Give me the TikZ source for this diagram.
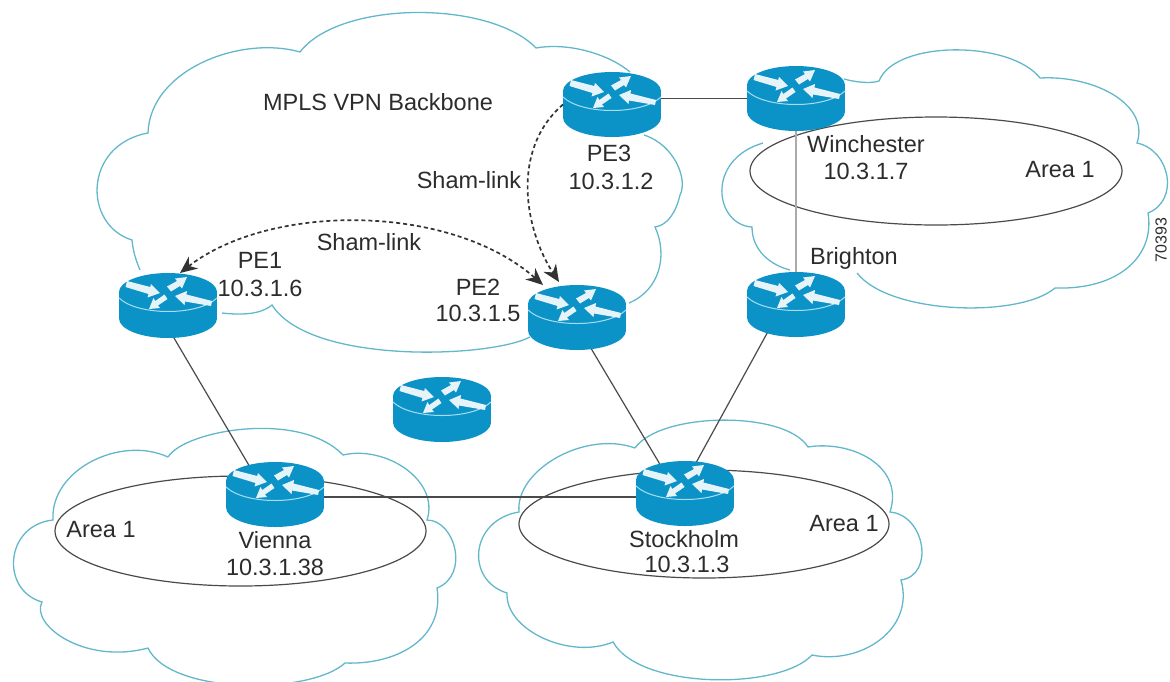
\documentclass[tikz,border=0pt]{standalone}
\usepackage{fontspec}
\setmainfont{Liberation Sans}
\usetikzlibrary{arrows.meta}
\definecolor{routerblue}{HTML}{0B93C8}
\definecolor{rimblue}{HTML}{A8DDF0}
\definecolor{cloudline}{HTML}{62B7CB}
\definecolor{inkgrey}{HTML}{2C2C2C}
\definecolor{linkgrey}{HTML}{4A4A4A}
\definecolor{paleflow}{HTML}{E6F4FA}
\tikzset{
  routerbox/.style={minimum width=98pt,minimum height=65pt,inner sep=0pt,outer sep=0pt},
  cloudpath/.style={draw=cloudline,line width=1.3pt},
  areaoval/.style={draw=linkgrey,line width=1.2pt},
  wire/.style={draw=linkgrey,line width=1.2pt,shorten <=-12pt,shorten >=-12pt},
  palewire/.style={draw=black!33,line width=2.4pt},
  shamlink/.style={draw=black!80,line width=1.7pt,dash pattern=on 4pt off 3pt},
  lbl/.style={text=inkgrey,font=\fontsize{23.5pt}{26pt}\selectfont,inner sep=0pt},
  tinylbl/.style={text=inkgrey,font=\fontsize{16pt}{18pt}\selectfont,inner sep=0pt},
  routerglyph/.pic={
    \begin{scope}[shift={(0,-13.5)}]
      \fill[routerblue] (0,0) ellipse [x radius=49pt,y radius=19pt];
      \fill[routerblue] (0,26.5) ellipse [x radius=49pt,y radius=19.5pt];
      \fill[routerblue] (-49,0) rectangle (49,26.5);
      \draw[rimblue,line width=1pt] (-49,6) .. controls (-30,24) and (30,24) .. (49,6);
      \fill[paleflow] (-8,1) -- (-17,-8) -- (-17.8,-5) -- (-41,-11) -- (-42.5,-5) -- (-19.5,2) -- (-20.5,5.5) -- cycle;
      \fill[paleflow] (-1,-5.5) -- (9,-11) -- (7,-13.5) -- (19,-15) -- (14,-3.5) -- (12,-6) -- (3,-0.5) -- cycle;
      \fill[paleflow] (7,4) -- (19,-1) -- (18.5,2.5) -- (44,9) -- (43,14) -- (17,9.5) -- (16.5,13) -- cycle;
      \fill[paleflow] (-19,17) -- (-14.5,6) -- (-12.7,9) -- (-3.5,2.5) -- (-0.5,7) -- (-10,13.5) -- (-8,16) -- cycle;
    \end{scope}
  }
}
\begin{document}
\begin{tikzpicture}[x=1pt,y=-1pt]
\useasboundingbox (0,0) rectangle (1170,681);
% router anchors
\node[routerbox] (pe3) at (612,104.5) {};
\node[routerbox] (win) at (796,98.5) {};
\node[routerbox] (bri) at (796,304.5) {};
\node[routerbox] (pe2) at (577,317.5) {};
\node[routerbox] (pe1) at (168,305.5) {};
\node[routerbox] (vie) at (275,494.5) {};
\node[routerbox] (mid) at (442,409.5) {};
\node[routerbox] (sto) at (685,493.5) {};
% clouds
\draw[cloudpath] (140,270) .. controls (135,258) and (133,250) .. (132,240)
  .. controls (83,225) and (83,145) .. (148,133)
  .. controls (150,70) and (240,35) .. (300,52)
  .. controls (340,0) and (490,0) .. (536,48)
  .. controls (570,42) and (610,55) .. (630,72);
\draw[cloudpath] (644,135) .. controls (675,145) and (688,180) .. (680,195)
  .. controls (676,212) and (668,225) .. (655,227)
  .. controls (668,255) and (660,290) .. (629,303);
\draw[cloudpath] (530,337) .. controls (490,358) and (310,365) .. (272,305)
  .. controls (260,315) and (240,315) .. (222,313);
\draw[cloudpath] (844,79) .. controls (855,82) and (870,84) .. (879,81)
  .. controls (895,40) and (1010,40) .. (1040,78)
  .. controls (1095,75) and (1150,105) .. (1137,143)
  .. controls (1170,150) and (1180,200) .. (1148,213)
  .. controls (1155,255) and (1120,290) .. (1055,288)
  .. controls (1020,318) and (890,315) .. (857,273);
\draw[cloudpath] (790,270) .. controls (770,265) and (752,250) .. (752,227)
  .. controls (715,225) and (705,160) .. (763,143);
\draw[cloudpath] (168,457) .. controls (185,430) and (300,410) .. (343,455)
  .. controls (385,445) and (440,480) .. (427,520)
  .. controls (455,520) and (470,575) .. (437,588)
  .. controls (445,640) and (395,665) .. (345,663)
  .. controls (310,695) and (170,695) .. (148,648)
  .. controls (85,665) and (30,625) .. (42,602)
  .. controls (0,590) and (5,525) .. (53,520)
  .. controls (50,470) and (120,435) .. (168,457);
\draw[cloudpath] (635,448) .. controls (660,412) and (785,410) .. (808,447)
  .. controls (850,440) and (905,465) .. (890,512)
  .. controls (925,515) and (935,575) .. (901,580)
  .. controls (915,630) and (860,665) .. (812,655)
  .. controls (780,690) and (640,690) .. (613,642)
  .. controls (570,660) and (505,630) .. (507,593)
  .. controls (465,580) and (470,520) .. (519,512)
  .. controls (515,470) and (585,430) .. (635,448);
% area ovals
\draw[areaoval] (936,171) ellipse [x radius=186pt,y radius=54pt];
\draw[areaoval] (240.5,531) ellipse [x radius=185.5pt,y radius=55pt];
\draw[areaoval] (704,524) ellipse [x radius=185pt,y radius=54pt];
% links
\draw[wire] (pe3 |- win) -- (win);
\draw[palewire] (win) -- (bri);
\draw[wire] ([xshift=6pt]pe1.south) -- ([xshift=-28pt]vie.north);
\draw[wire] ([xshift=15pt]pe2.south) -- ([xshift=-27pt]sto.north);
\draw[wire] ([xshift=-31pt]bri.south) -- ([xshift=12pt]sto.north);
\draw[wire] ([yshift=-2.5pt]vie.center) -- ([yshift=-3.5pt]sto.center);
% routers
\foreach \r in {pe3,win,bri,pe2,pe1,vie,mid,sto} \pic at (\r) {routerglyph};
% sham links
\draw[shamlink,{Stealth[length=17pt,width=15pt]}-{Stealth[length=17pt,width=15pt]}] ([xshift=12pt]pe1.north) .. controls (270,203) and (450,203) .. ([xshift=-34pt]pe2.north);
\draw[shamlink,-{Stealth[length=17pt,width=15pt]}] (pe3.west) .. controls (510,150) and (525,230) .. ([xshift=-18pt,yshift=3pt]pe2.north);
% labels
\node[lbl] (tb) at (378,102) {MPLS VPN Backbone};
\node[lbl] (ts1) at (469,180) {Sham-link};
\node[lbl] (ts2) at (369,242) {Sham-link};
\node[lbl] (tp1) at (260,260) {PE1};
\node[lbl] (ta1) at (260,288) {10.3.1.6};
\node[lbl] (tp2) at (478,287) {PE2};
\node[lbl] (ta2) at (478,313) {10.3.1.5};
\node[lbl] (tp3) at (609,153) {PE3};
\node[lbl] (ta3) at (611,181) {10.3.1.2};
\node[lbl] (tw) at (866,144) {Winchester};
\node[lbl] (taw) at (866,171) {10.3.1.7};
\node[lbl] (tar1) at (1060,170) {Area 1};
\node[lbl] (tbr) at (854,258) {Brighton};
\node[tinylbl,rotate=90] (tn) at (1161,240) {70393};
\node[lbl] (tv) at (275,540) {Vienna};
\node[lbl] (tav) at (275,567) {10.3.1.38};
\node[lbl] (tar2) at (101,530) {Area 1};
\node[lbl] (ts) at (684,539) {Stockholm};
\node[lbl] (tas) at (687,564) {10.3.1.3};
\node[lbl] (tar3) at (844,524) {Area 1};
\end{tikzpicture}
\end{document}
